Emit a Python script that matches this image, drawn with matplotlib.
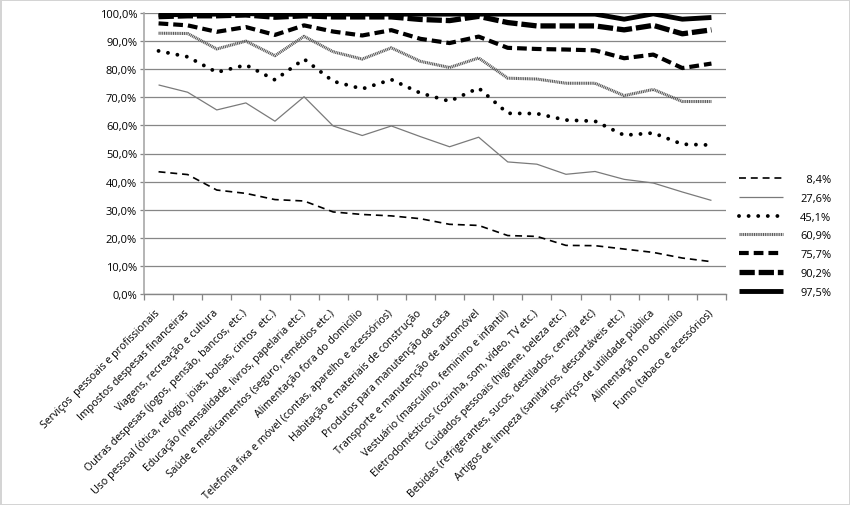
import matplotlib
matplotlib.use("Agg")
import matplotlib.pyplot as plt
from matplotlib.ticker import FixedLocator, FuncFormatter
import numpy as np

plt.rcParams['font.family'] = ['Open Sans', 'DejaVu Sans']
plt.rcParams['lines.scale_dashes'] = False

categories = [
    "Serviços  pessoais e profissionais",
    "Impostos despesas financeiras",
    "Viagens, recreação e cultura",
    "Outras despesas (jogos, pensão, bancos, etc.)",
    "Uso pessoal (ótica, relógio, joias, bolsas, cintos  etc.)",
    "Educação (mensalidade, livros, papelaria etc.)",
    "Saúde e medicamentos (seguro, remédios etc.)",
    "Alimentação fora do domicílio",
    "Telefonia fixa e móvel (contas, aparelho e acessórios)",
    "Habitação e materiais de construção",
    "Produtos para manutenção da casa",
    "Transporte e manutenção de automóvel",
    "Vestuário (masculino, feminino e infantil)",
    "Eletrodomésticos (cozinha, som, vídeo, TV etc.)",
    "Cuidados pessoais (higiene, beleza etc.)",
    "Bebidas (refrigerantes, sucos, destilados, cerveja etc)",
    "Artigos de limpeza (sanitários, descartáveis etc.)",
    "Serviços de utilidade pública",
    "Alimentação no domicílio",
    "Fumo (tabaco e acessórios)",
]

series_labels = ["8,4%", "27,6%", "45,1%", "60,9%", "75,7%", "90,2%", "97,5%"]

p8_4 = [43.5, 42.5, 37.0, 35.8, 33.6, 33.1, 29.2, 28.3, 27.8, 26.8,
        24.8, 24.4, 20.8, 20.5, 17.3, 17.2, 16.0, 14.8, 12.8, 11.5]
p27_6 = [74.4, 71.8, 65.5, 68.0, 61.5, 70.2, 59.8, 56.4, 59.8, 56.0,
         52.4, 55.8, 47.0, 46.2, 42.6, 43.6, 40.8, 39.5, 36.3, 33.3]
p45_1 = [86.5, 84.4, 78.9, 81.5, 76.2, 83.6, 75.7, 73.0, 76.3, 71.5,
         68.6, 73.3, 64.3, 64.2, 61.9, 61.5, 56.5, 57.3, 53.3, 53.0]
p60_9 = [92.8, 92.7, 87.2, 90.0, 84.8, 91.7, 86.2, 83.6, 87.6, 82.8,
         80.6, 84.0, 76.8, 76.5, 75.0, 75.0, 70.6, 72.8, 68.5, 68.5]
p75_7 = [96.3, 95.6, 93.3, 95.0, 92.2, 95.6, 93.4, 92.0, 93.9, 90.8,
         89.3, 91.6, 87.6, 87.2, 87.0, 86.7, 83.9, 85.2, 80.4, 82.0]
p90_2 = [98.7, 99.0, 99.0, 99.3, 98.5, 99.0, 98.6, 98.6, 98.6, 97.7,
         97.3, 98.8, 96.6, 95.4, 95.4, 95.4, 94.0, 95.6, 92.6, 94.0]
p97_5 = [99.3, 99.5, 99.6, 99.8, 99.5, 99.6, 99.6, 99.6, 99.6, 99.6,
         99.6, 99.6, 99.6, 99.6, 99.6, 99.6, 97.8, 99.7, 97.8, 98.4]

all_series = [p8_4, p27_6, p45_1, p60_9, p75_7, p90_2, p97_5]

styles = [
    dict(color='black', lw=1.2, dashes=(5, 3.5)),
    dict(color='#7a7a7a', lw=0.9),
    dict(color='black', lw=2.8, dashes=(0.01, 6.9), dash_capstyle='round'),
    dict(color='#5a5a5a', lw=2.2, dashes=(0.8, 0.5)),
    dict(color='black', lw=3.0, dashes=(7, 3.6)),
    dict(color='black', lw=3.8, dashes=(11, 2.8)),
    dict(color='black', lw=3.5),
]

fig = plt.figure(figsize=(8.5, 5.06), dpi=100)
fig.patch.set_facecolor('white')
fig.patch.set_edgecolor('#d4d4d4')
fig.patch.set_linewidth(2)

ax = fig.add_axes([144/850, 1-295/506, (726-144)/850, (295-14)/506])
x = np.arange(len(categories))

for vals, lab, st in zip(all_series, series_labels, styles):
    ax.plot(x, vals, label=lab, solid_capstyle='butt', **st)

ax.set_xlim(-0.5, len(categories) - 0.5)
ax.set_ylim(0, 100)
ax.set_yticks(np.arange(0, 101, 10))
ax.yaxis.set_major_formatter(FuncFormatter(lambda v, p: f"{v:.1f}%".replace('.', ',')))
ax.grid(axis='y', color='#868686', lw=0.9)
ax.set_axisbelow(True)

ax.set_xticks(x)
ax.set_xticklabels(categories, rotation=45, ha='right', va='center',
                   rotation_mode='anchor', fontsize=7.7)
ax.xaxis.set_minor_locator(FixedLocator(np.arange(-0.5, len(categories), 1)))
ax.tick_params(axis='x', which='major', length=0, pad=12)
ax.tick_params(axis='x', which='minor', length=4, color='#868686', width=0.9)
ax.tick_params(axis='y', length=3, color='#868686', width=0.9, labelsize=8, pad=2)

for s in ['top', 'right']:
    ax.spines[s].set_visible(False)
ax.spines['left'].set_color('#a8a8a8')
ax.spines['left'].set_linewidth(1.2)
ax.spines['bottom'].set_color('#868686')
ax.spines['bottom'].set_linewidth(1.0)

labels_fmt = [l if len(l) > 4 else "\u2007" + l for l in series_labels]
handles, _ = ax.get_legend_handles_labels()
leg = fig.legend(handles, labels_fmt, loc='upper left',
                 bbox_to_anchor=(739/850, 1-175/506), frameon=False,
                 fontsize=8, handlelength=4.0, handletextpad=1.5,
                 labelspacing=0.7, borderpad=0, borderaxespad=0)

fig.savefig('out.png', dpi=100)
